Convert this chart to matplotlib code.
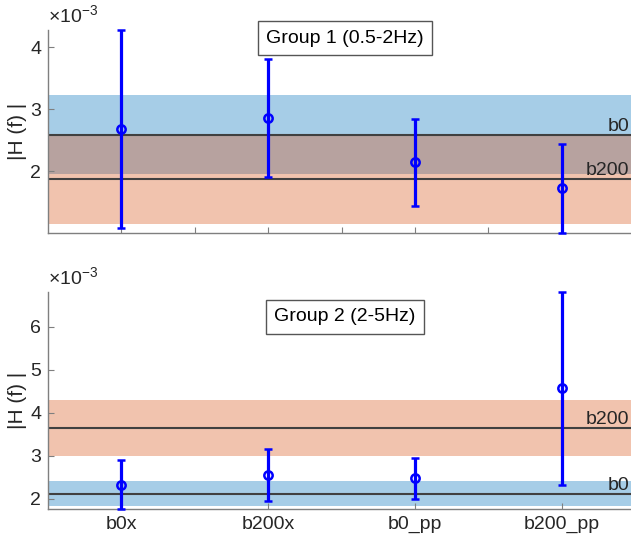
import matplotlib
matplotlib.use("Agg")
import matplotlib.pyplot as plt

plt.rcParams["font.family"] = ["Liberation Sans", "DejaVu Sans"]
plt.rcParams["mathtext.fontset"] = "custom"
plt.rcParams["mathtext.rm"] = "Liberation Sans"

conditions = ["b0x", "b200x", "b0_pp", "b200_pp"]

# group 1 (0.5-2 Hz), values in units of 1e-3
g1_mean = [2.68, 2.86, 2.14, 1.72]
g1_err = [1.60, 0.95, 0.71, 0.72]
g1_ref = {"b0": (2.59, 0.64), "b200": (1.87, 0.73)}

# group 2 (2-5 Hz)
g2_mean = [2.33, 2.555, 2.475, 4.57]
g2_err = [0.57, 0.605, 0.475, 2.24]
g2_ref = {"b0": (2.12, 0.30), "b200": (3.65, 0.65)}

titles = ["Group 1 (0.5-2Hz)", "Group 2 (2-5Hz)"]

band_colors = {"b0": (0.0, 0.447, 0.741), "b200": (0.85, 0.325, 0.098)}
txt_col = "#262626"
axis_col = "#7f7f7f"
W, H = 631, 543

fig = plt.figure(figsize=(W / 100, H / 100), dpi=100)
ax1 = fig.add_axes([48 / W, 1 - 233 / H, 587 / W, 203 / H])
ax2 = fig.add_axes([48 / W, 1 - 509 / H, 587 / W, 217 / H])

scale = 1e-3
x = list(range(1, len(conditions) + 1))


def draw_panel(ax, means, errs, refs, title, title_y, label_ticks):
    m = [v * scale for v in means]
    e = [v * scale for v in errs]
    lows = [a - b for a, b in zip(m, e)]
    highs = [a + b for a, b in zip(m, e)]

    for name, (mu, sd) in refs.items():
        ax.axhspan((mu - sd) * scale, (mu + sd) * scale, color=band_colors[name],
                   alpha=0.35, lw=0, zorder=1)
    for name, (mu, sd) in refs.items():
        ax.axhline(mu * scale, color="#404040", lw=1.5, zorder=2)
        ax.text(0.99, mu * scale, name, transform=ax.get_yaxis_transform(),
                ha="right", va="bottom", fontsize=14, color=txt_col, zorder=3)

    ax.errorbar(x, m, yerr=e, fmt="o", color="blue", mfc="none", ms=6, mew=1.8,
                elinewidth=2.3, capsize=3, capthick=2, zorder=4, clip_on=False)

    lo, hi = min(lows), max(highs)
    yt = [v for v in range(2, 8) if lo <= v * scale <= hi]
    ax.set_xlim(0.5, 4.5)
    ax.set_ylim(lo, hi)
    ax.set_yticks([v * scale for v in yt])
    ax.set_yticklabels([str(v) for v in yt])
    if label_ticks:
        ax.set_xticks(x)
        ax.set_xticklabels(conditions)
    else:
        ax.set_xticks([1, 1.5, 2, 2.5, 3, 3.5, 4])
        ax.set_xticklabels([])

    for side in ("top", "right"):
        ax.spines[side].set_visible(False)
    for side in ("left", "bottom"):
        ax.spines[side].set_color(axis_col)
        ax.spines[side].set_linewidth(1.0)
    ax.tick_params(direction="in", length=4, color=axis_col, labelcolor=txt_col,
                   labelsize=14, pad=5)
    ax.set_ylabel("|H (f) |", fontsize=15, color=txt_col, labelpad=2)
    ax.text(0.0, 1.012, r"$\times10^{-3}$", transform=ax.transAxes, ha="left",
            va="bottom", fontsize=14, color=txt_col)
    ax.text(0.506, title_y, title, transform=ax.transAxes, ha="center", va="center",
            fontsize=14, color="black", zorder=5,
            bbox=dict(boxstyle="square,pad=0.42", fc="white", ec="#555555", lw=1))


draw_panel(ax1, g1_mean, g1_err, g1_ref, titles[0], 0.96, False)
draw_panel(ax2, g2_mean, g2_err, g2_ref, titles[1], 0.885, True)

fig.savefig("out.png", dpi=100)
